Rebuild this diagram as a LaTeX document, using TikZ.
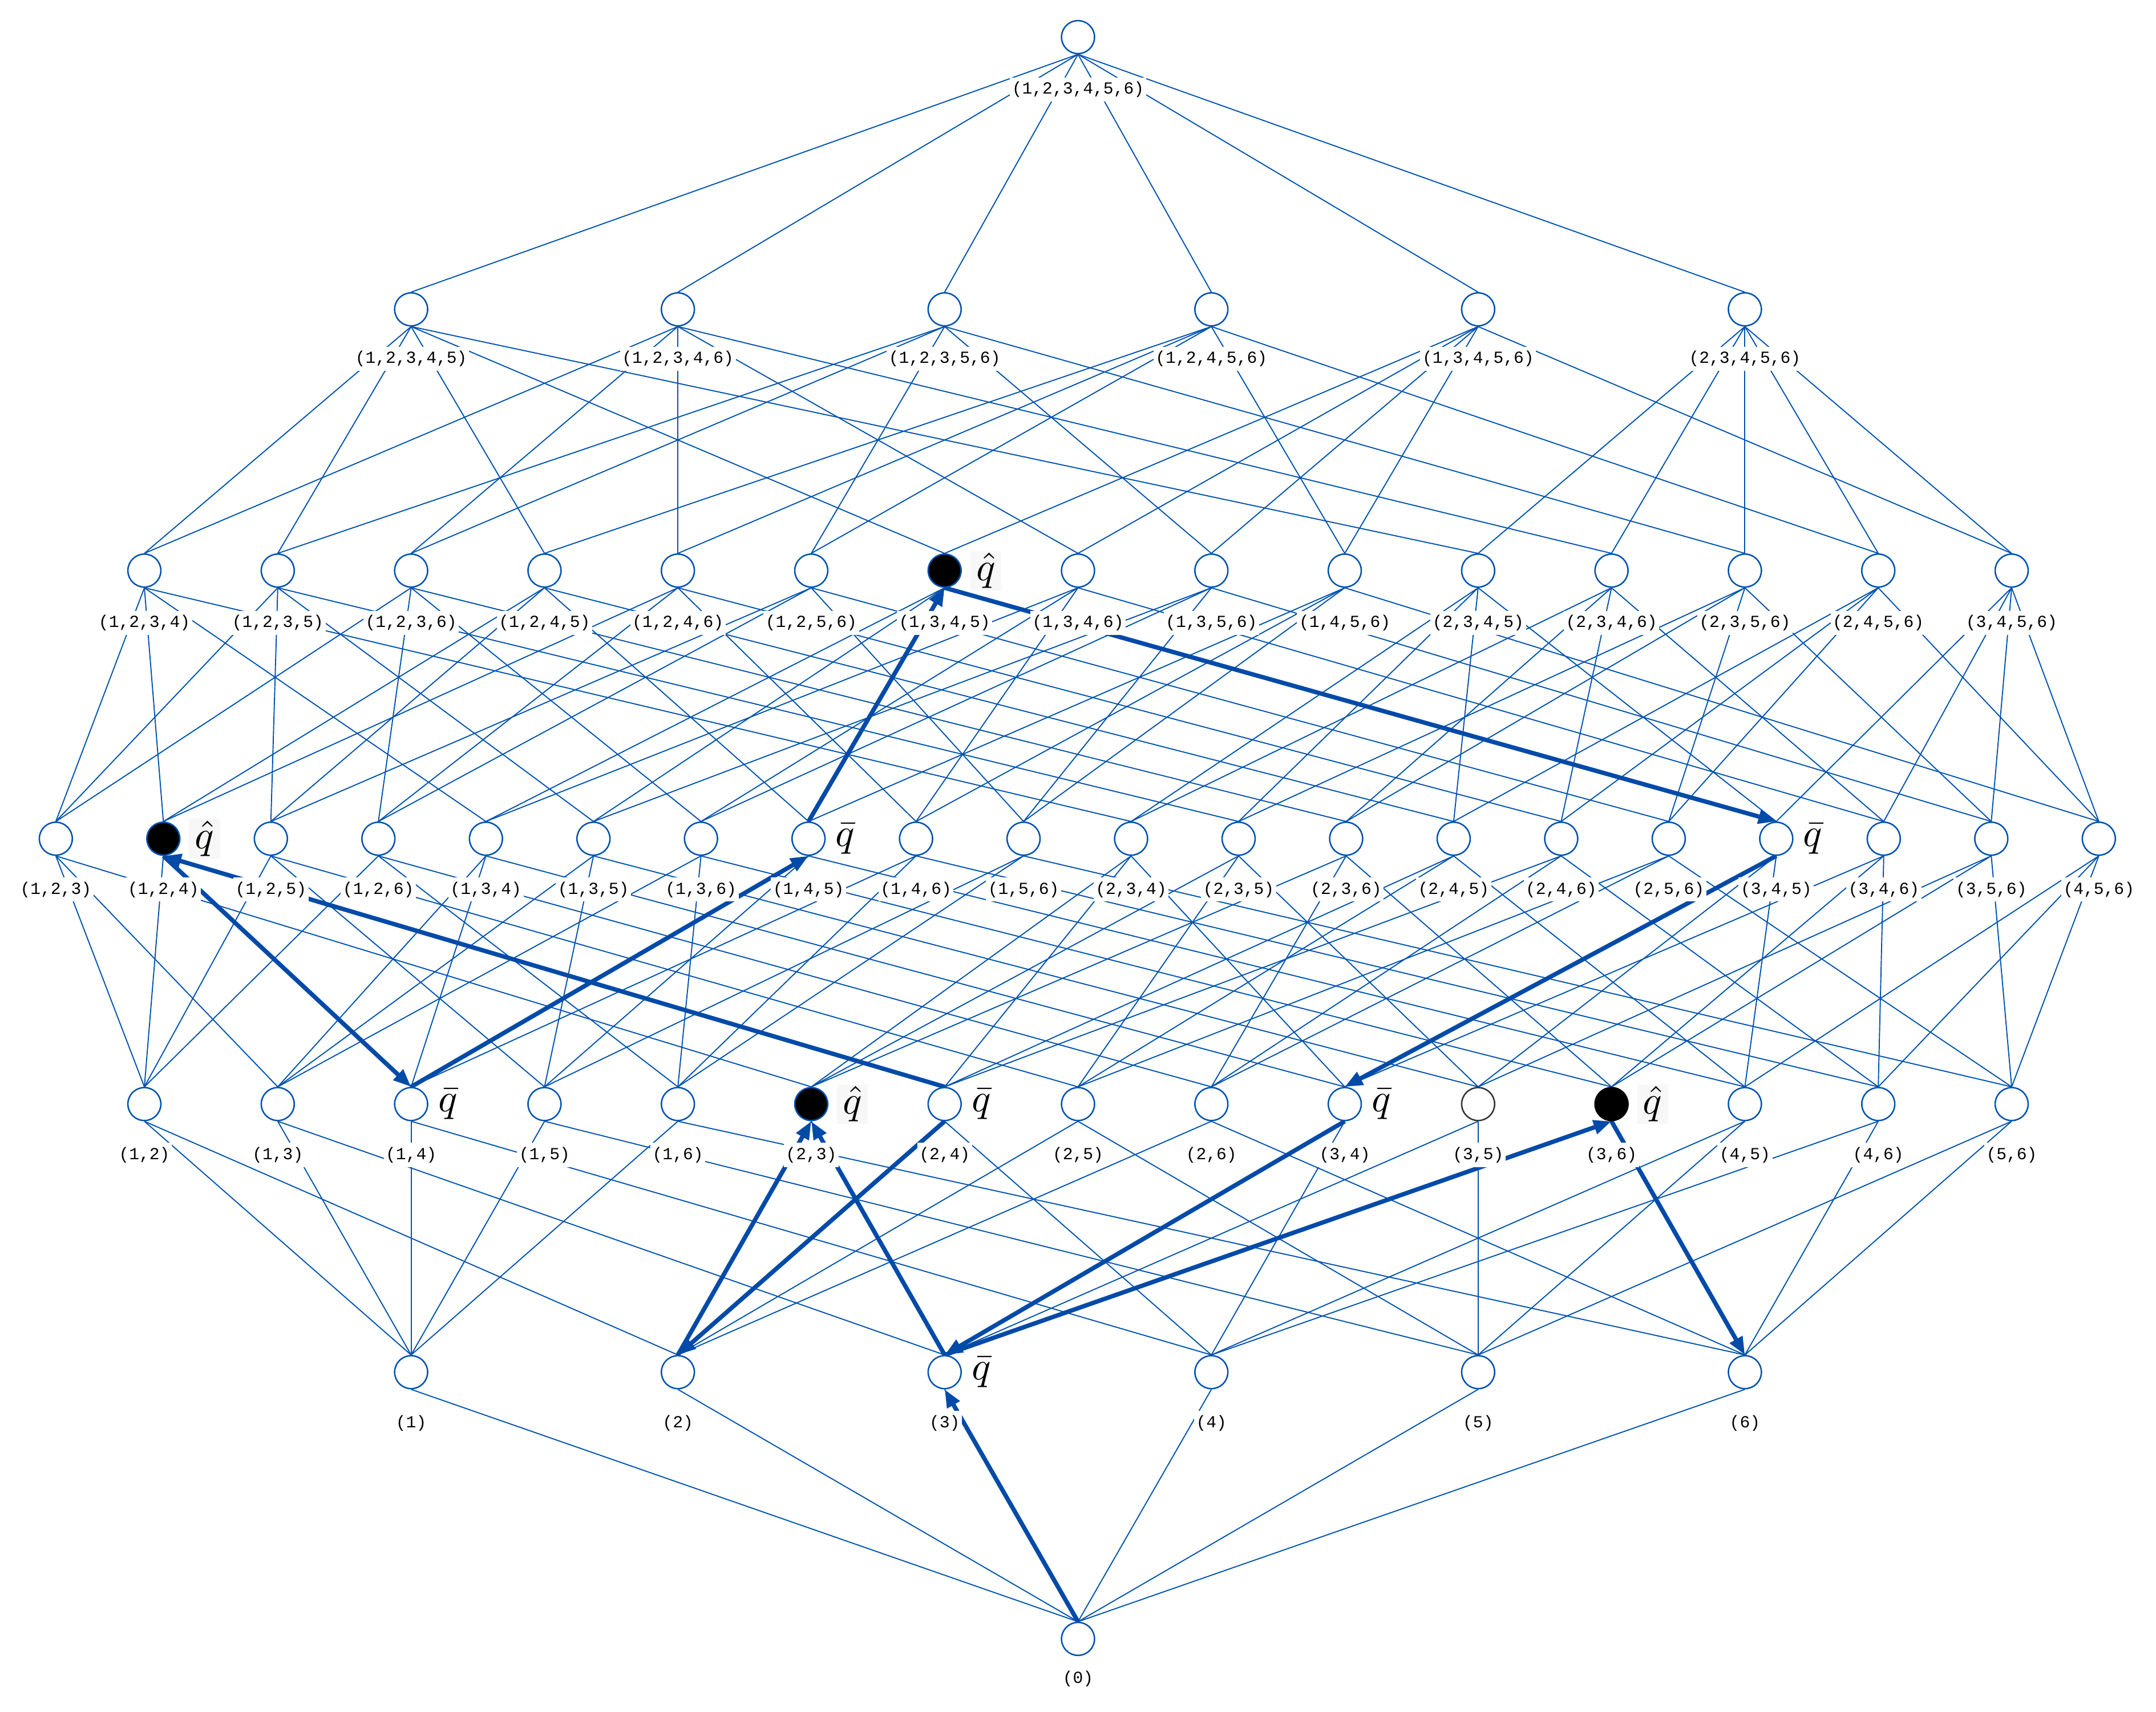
\documentclass[tikz,border=0pt]{standalone}
\usepackage{fontspec}
\usetikzlibrary{arrows.meta,positioning,backgrounds}
\newfontfamily\lblfont{Liberation Mono}
\definecolor{LatBlue}{RGB}{0,82,176}
\definecolor{PathBlue}{RGB}{0,74,168}
\definecolor{HatGray}{RGB}{247,247,247}

% drop one digit from a subset name, result in \rest
\def\dropscan#1{\ifx\relax#1\else\def\cur{#1}\ifx\cur\dropd\else\edef\rest{\rest#1}\fi\expandafter\dropscan\fi}
% Hasse edges from a subset down to each subset one element smaller
\newcommand\downedges[1]{%
  \begin{pgfonlayer}{background}
    \foreach \k in {1,...,6}{%
      \edef\orig{#1}\edef\dropd{\k}\def\rest{}%
      \expandafter\dropscan\orig\relax
      \ifx\rest\orig\else\draw[edge] (n#1.south) -- (n\rest.north);\fi}
  \end{pgfonlayer}}
\newcommand\qmark[1]{\scalebox{3.3}{$#1$}}

\tikzset{
  s1345/.style={hit},
  s124/.style={hit},
  s23/.style={hit},
  s36/.style={hit,draw=black},
  s35/.style={draw=black!80},
}

\begin{document}
\begin{tikzpicture}[x=0.4mm,y=-0.4mm,
  vtx/.style={circle,draw=LatBlue,line width=1.2pt,fill=white,minimum size=9.6mm,inner sep=0pt},
  hit/.style={fill=black},
  lbl/.style={fill=white,inner xsep=0.6mm,inner ysep=1.2mm,font=\lblfont\fontsize{14}{16}\selectfont},
  edge/.style={LatBlue,line width=0.9pt},
  walk/.style={-{Triangle[length=5.2mm,width=4mm]},line width=3.6pt,PathBlue},
  qhat/.style={fill=HatGray,inner xsep=1.7mm,inner ysep=0.6mm,right=2.4mm of #1},
  qbar/.style={fill=white,inner sep=0.4mm,right=2.4mm of #1},
]
\useasboundingbox (0,0) rectangle (1568,1245);

% level 0
\node[vtx] (n0) at (784,1192) {};
\node[lbl] (t0) at (784,1221) {(0)};

% level 1
\foreach \s [count=\i from 0] in {1,...,6} {
  \node[vtx,s\s/.try] (n\s) at ({299+194*\i},998) {};
  \node[lbl] (t\s) at ({299+194*\i},1035) {(\s)};
  \begin{pgfonlayer}{background}
    \draw[edge] (n\s.south) -- (n0.north);
  \end{pgfonlayer}
}

% level 2
\foreach \s/\lab [count=\i from 0] in {12/{1,2},13/{1,3},14/{1,4},15/{1,5},16/{1,6},
    23/{2,3},24/{2,4},25/{2,5},26/{2,6},34/{3,4},35/{3,5},36/{3,6},45/{4,5},46/{4,6},56/{5,6}} {
  \node[vtx,s\s/.try] (n\s) at ({105+97*\i},803) {};
  \node[lbl] (t\s) at ({105+97*\i},840) {(\lab)};
  \downedges{\s}
}

% level 3
\foreach \s/\lab [count=\i from 0] in {123/{1,2,3},124/{1,2,4},125/{1,2,5},126/{1,2,6},
    134/{1,3,4},135/{1,3,5},136/{1,3,6},145/{1,4,5},146/{1,4,6},156/{1,5,6},
    234/{2,3,4},235/{2,3,5},236/{2,3,6},245/{2,4,5},246/{2,4,6},256/{2,5,6},
    345/{3,4,5},346/{3,4,6},356/{3,5,6},456/{4,5,6}} {
  \node[vtx,s\s/.try] (n\s) at ({40.6+78.2*\i},610) {};
  \node[lbl] (t\s) at ({40.6+78.2*\i},647) {(\lab)};
  \downedges{\s}
}

% level 4
\foreach \s/\lab [count=\i from 0] in {1234/{1,2,3,4},1235/{1,2,3,5},1236/{1,2,3,6},
    1245/{1,2,4,5},1246/{1,2,4,6},1256/{1,2,5,6},1345/{1,3,4,5},1346/{1,3,4,6},
    1356/{1,3,5,6},1456/{1,4,5,6},2345/{2,3,4,5},2346/{2,3,4,6},2356/{2,3,5,6},
    2456/{2,4,5,6},3456/{3,4,5,6}} {
  \node[vtx,s\s/.try] (n\s) at ({105+97*\i},415) {};
  \node[lbl] (t\s) at ({105+97*\i},453) {(\lab)};
  \downedges{\s}
}

% level 5
\foreach \s/\lab [count=\i from 0] in {12345/{1,2,3,4,5},12346/{1,2,3,4,6},12356/{1,2,3,5,6},
    12456/{1,2,4,5,6},13456/{1,3,4,5,6},23456/{2,3,4,5,6}} {
  \node[vtx] (n\s) at ({299+194*\i},225) {};
  \node[lbl] (t\s) at ({299+194*\i},261) {(\lab)};
  \downedges{\s}
}

% level 6
\node[vtx] (n123456) at (784,27) {};
\node[lbl] (t123456) at (784,65) {(1,2,3,4,5,6)};
\downedges{123456}

% search path
\begin{pgfonlayer}{background}
\draw[walk] (n0.north) -- (n3.south);
\draw[walk] (n3.north) -- (n23.south);
\draw[walk] (n2.north) -- (n23.south);
\draw[walk] (n24.south) -- (n2.north);
\draw[walk] (n24.north) -- (n124.south);
\draw[walk] (n124.south) -- (n14.north);
\draw[walk] (n14.north) -- (n145.south);
\draw[walk] (n145.north) -- (n1345.south);
\draw[walk] (n1345.south) -- (n345.north);
\draw[walk] (n345.south) -- (n34.north);
\draw[walk] (n34.south) -- (n3.north);
\draw[walk] (n3.north) -- (n36.south);
\draw[walk] (n36.south) -- (n6.north);
\end{pgfonlayer}

\node[qhat=n1345] (qh1345) {\qmark{\hat{q}}};
\node[qhat=n124] (qh124) {\qmark{\hat{q}}};
\node[qhat=n23] (qh23) {\qmark{\hat{q}}};
\node[qhat=n36] (qh36) {\qmark{\hat{q}}};
\node[qbar=n145] (qb145) {\qmark{\bar{q}}};
\node[qbar=n345] (qb345) {\qmark{\bar{q}}};
\node[qbar=n14] (qb14) {\qmark{\bar{q}}};
\node[qbar=n24] (qb24) {\qmark{\bar{q}}};
\node[qbar=n34] (qb34) {\qmark{\bar{q}}};
\node[qbar=n3] (qb3) {\qmark{\bar{q}}};
\end{tikzpicture}
\end{document}
